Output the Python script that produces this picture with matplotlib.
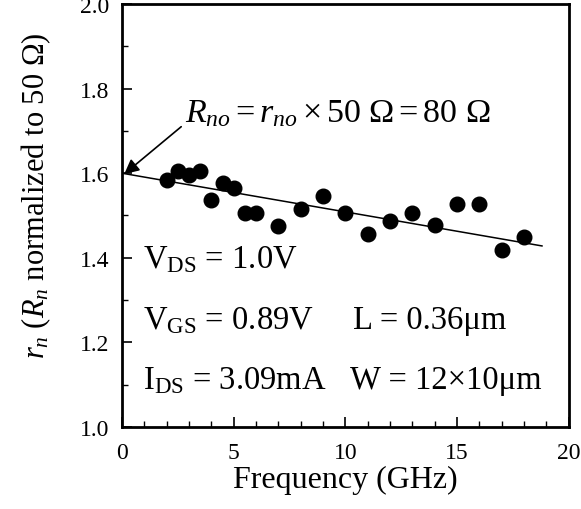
import matplotlib
matplotlib.use("Agg")
import matplotlib.pyplot as plt
from matplotlib.ticker import MultipleLocator

# --- measured noise resistance vs frequency ---
freq_ghz = [2.0, 2.5, 3.0, 3.5, 4.0, 4.5, 5.0, 5.5, 6.0, 7.0, 8.0,
            9.0, 10.0, 11.0, 12.0, 13.0, 14.0, 15.0, 16.0, 17.0, 18.0]
rn = [1.585, 1.605, 1.595, 1.605, 1.537, 1.577, 1.566, 1.506, 1.506, 1.475, 1.516,
      1.546, 1.507, 1.456, 1.487, 1.507, 1.477, 1.528, 1.528, 1.418, 1.448]

# linear fit extrapolated to f = 0 (r_no = 1.6)
fit_x = [0.0, 18.8]
fit_y = [1.60, 1.428]

x_ticks = [0, 5, 10, 15, 20]
y_ticks = [1.0, 1.2, 1.4, 1.6, 1.8, 2.0]

plt.rcParams["font.family"] = ["Liberation Serif", "DejaVu Serif"]
plt.rcParams["mathtext.fontset"] = "custom"
plt.rcParams["mathtext.rm"] = "Liberation Serif"
plt.rcParams["mathtext.it"] = "Liberation Serif:italic"

fig = plt.figure(figsize=(5.81, 5.10), dpi=100)
ax = fig.add_axes([0.210, 0.161, 0.769, 0.829])

ax.plot(fit_x, fit_y, color="black", lw=1.1, zorder=2)
ax.plot(freq_ghz, rn, "o", color="black", ms=10.5, zorder=3)

ax.set_xlim(0, 20)
ax.set_ylim(1.0, 2.0)
ax.set_xticks(x_ticks)
ax.set_yticks(y_ticks)
ax.set_xticklabels([str(v) for v in x_ticks])
ax.set_yticklabels(["%.1f" % v for v in y_ticks])
ax.xaxis.set_minor_locator(MultipleLocator(1))
ax.yaxis.set_minor_locator(MultipleLocator(0.1))
ax.tick_params(which="both", direction="in", top=False, right=False, labelsize=17)
ax.tick_params(axis="x", pad=11)
ax.tick_params(axis="y", pad=9)
ax.tick_params(which="major", length=7, width=1.2)
ax.tick_params(which="minor", length=4, width=1.0)
for sp in ax.spines.values():
    sp.set_linewidth(2.0)

ax.set_xlabel("Frequency (GHz)", fontsize=23, labelpad=1)
ax.set_ylabel(r"$r_n$ ($R_n$ normalized to 50 $\Omega$)", fontsize=22)
ax.yaxis.set_label_coords(-0.155, 0.548)

# extrapolated value annotation
ax.annotate("", xy=(0.1, 1.598), xytext=(2.65, 1.71),
            arrowprops=dict(arrowstyle="-|>", color="black", lw=1.2,
                            mutation_scale=22, shrinkA=0, shrinkB=0))
ax.text(2.8, 1.724, r"$R_{no} = r_{no} \times 50\ \Omega = 80\ \Omega$",
        fontsize=24.5, va="baseline", ha="left")

# bias and geometry conditions
cond_size = 23.5
ax.text(0.94, 1.378, r"V$_{\rm DS}$ = 1.0V", fontsize=cond_size, va="baseline")
ax.text(0.94, 1.233, r"V$_{\rm GS}$ = 0.89V", fontsize=cond_size, va="baseline")
ax.text(10.35, 1.233, "L = 0.36\u03bcm", fontsize=cond_size, va="baseline")
ax.text(0.94, 1.0915, r"I$_{\rm DS}$ = 3.09mA", fontsize=cond_size, va="baseline")
ax.text(10.2, 1.0915, "W = 12\u00d710\u03bcm", fontsize=cond_size, va="baseline")

fig.savefig("out.png", dpi=100)
